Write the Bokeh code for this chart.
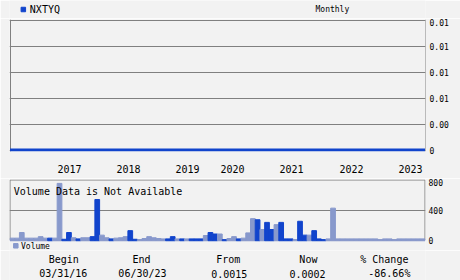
from bokeh.plotting import figure
from bokeh.models import Range1d, LinearAxis, FixedTicker, Grid, ColumnDataSource
from bokeh.layouts import column
from bokeh.embed import file_html
from bokeh.resources import INLINE
from bokeh.core.properties import value

# ---------------- data ----------------
symbol = "NXTYQ"
period = "Monthly"

# monthly volume bars, 03/2016 .. 06/2023 (88 months); "L" = light bar, "D" = dark bar
vol_values = [25, 25, 100, 25, 25, 25, 45, 25, 25, 25,
              755, 10, 100, 30, 15, 30, 30, 45, 540, 65,
              30, 15, 25, 30, 45, 125, 10, 5, 20, 45,
              30, 20, 15, 15, 45, 15, 15, 15, 15, 15,
              15, 60, 100, 80, 80, 5, 20, 45, 15, 25,
              95, 285, 270, 140, 235, 140, 205, 235, 15, 15,
              5, 250, 65, 65, 125, 15, 5, 15, 425, 15,
              15, 15, 15, 15, 15, 15, 15, 15, 5, 15,
              15, 5, 15, 15, 15, 15, 15, 15]
vol_kind = ["L", "L", "L", "L", "L", "L", "L", "L", "D", "L",
            "L", "D", "D", "L", "D", "L", "L", "D", "D", "L",
            "L", "D", "L", "L", "L", "D", "D", "L", "L", "L",
            "L", "L", "L", "D", "D", "L", "D", "L", "D", "D",
            "D", "L", "D", "D", "L", "D", "L", "L", "D", "L",
            "L", "L", "D", "L", "D", "D", "L", "D", "D", "D",
            "L", "D", "D", "L", "D", "D", "D", "L", "L", "L",
            "L", "L", "L", "L", "L", "L", "L", "L", "L", "L",
            "L", "L", "L", "L", "L", "L", "L", "L"]

# price line (no price data shown: flat at zero across the period)
price_months = [0, 88]
price_values = [0.0, 0.0]

year_ticks = [12.62, 25.13, 37.64, 47.18, 59.69, 72.41, 84.92]
year_labels = ["2017", "2018", "2019", "2020", "2021", "2022", "2023"]

price_ticks = [0, 0.0025, 0.005, 0.0075, 0.01, 0.0125]
price_tick_labels = ["0", "0.00", "0.01", "0.01", "0.01", "0.01"]

vol_ticks = [0, 400, 800]
vol_tick_labels = ["0", "400", "800"]

stat_names = ["Begin", "End", "From", "Now", "% Change"]
stat_values = ["03/31/16", "06/30/23", "0.0015", "0.0002", "-86.66%"]

# ---------------- style / layout ----------------
BG = "#f2f2f2"
GRID = "#808080"
LIGHT = "#8899cc"
DARK = "#1144cc"
FONT = "DejaVu Sans Mono"
W = 460
n = len(vol_values)
px = n / 415.0            # data units per pixel along x
x_rng = Range1d(-0.5 * px, n + 0.5 * px)


def make_fig(height, xr, yr, **borders):
    kw = dict(min_border=0)
    kw.update(borders)
    f = figure(width=W, height=height, x_range=xr, y_range=yr,
               toolbar_location=None, output_backend="svg",
               x_axis_location=None, y_axis_location=None,
               background_fill_color=BG, border_fill_color=BG,
               outline_line_color=None, **kw)
    f.xgrid.visible = False
    f.ygrid.visible = False
    return f


def plain_axis(ticks, labels, standoff, size):
    return LinearAxis(ticker=FixedTicker(ticks=ticks),
                      major_label_overrides={t: s for t, s in zip(ticks, labels)},
                      axis_line_color=None, major_tick_line_color=None,
                      minor_tick_line_color=None, major_tick_out=0, major_tick_in=0,
                      major_label_standoff=standoff, major_label_text_font=FONT,
                      major_label_text_font_size=size, major_label_text_color="black")


def txt(f, x, y, s, size, align="left"):
    f.text(x=x, y=y, text=s, text_font=value(FONT), text_font_size=size,
           text_baseline="middle", text_align=align, color="black")


# header
H = 18
head = make_fig(H, Range1d(0, W), Range1d(0, H))
head.scatter(x=[15.3], y=[9], marker="square", size=4.5, color=DARK)
txt(head, [22.5], [9], [symbol], "10px")
txt(head, [357], [9], [period], "8px", "center")

# price panel
pp = 0.0125 / 130.0
price = make_fig(160, x_rng, Range1d(-1.5 * pp, 0.0125 + 0.5 * pp),
                 min_border_top=1, min_border_left=9, min_border_right=35,
                 min_border_bottom=27)
price.add_layout(Grid(dimension=1, ticker=FixedTicker(ticks=price_ticks), grid_line_color=GRID))
price.add_layout(Grid(dimension=0, ticker=FixedTicker(ticks=[0, n]), grid_line_color=GRID))
price.line(x=price_months, y=price_values, line_color=DARK, line_width=3.2)
price.add_layout(plain_axis(price_ticks, price_tick_labels, 4, "8px"), "right")
price.add_layout(plain_axis(year_ticks, year_labels, 13, "10px"), "below")

# volume panel (frame runs a little below the panel so the legend fits inside)
vp = 800.0 / 60.0          # volume units per pixel
VH = 72
vtop = vol_ticks[-1] + 0.5 * vp
vol = make_fig(VH, x_rng, Range1d(vtop - (VH - 1) * vp, vtop),
               min_border_top=1, min_border_left=9, min_border_right=35)
vol.add_layout(Grid(dimension=1, ticker=FixedTicker(ticks=vol_ticks[1:-1]), grid_line_color=GRID))
vol.quad(left=[0], right=[n], bottom=[vol_ticks[0]], top=[vol_ticks[-1]],
         fill_color=None, line_color=GRID, line_width=1)
src = ColumnDataSource(dict(
    x=[i + 0.5 for i in range(n)],
    top=vol_values,
    color=[LIGHT if k == "L" else DARK for k in vol_kind],
))
vol.vbar(x="x", top="top", bottom=-0.75 * vp, width=1.0, color="color", source=src)
txt(vol, [0.8], [643], ["Volume Data is Not Available"], "10px")
vol.add_layout(plain_axis(vol_ticks, vol_tick_labels, 3, "8px"), "right")
# legend
vol.scatter(x=[(15.3 - 9.5) * px], y=[-5.8 * vp], marker="square", size=4.5, color=LIGHT)
txt(vol, [(20.5 - 9.5) * px], [-6.0 * vp], ["Volume"], "8px")

# summary
SH = 30
stats = make_fig(SH, Range1d(0, W), Range1d(0, SH))
name_x = [60, 146, 242, 330.5, 414.5]
val_x = [59.5, 147, 243, 329.5, 420]
txt(stats, name_x, [21] * len(stat_names), stat_names, "10px", "center")
txt(stats, val_x, [7] * len(stat_values), stat_values, "10px", "center")

p = column(head, price, vol, stats, spacing=0)
open("out.html", "w").write(file_html(p, INLINE))
